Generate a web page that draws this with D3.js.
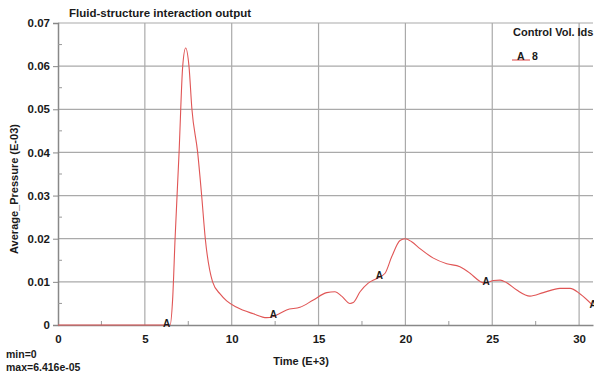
<!DOCTYPE html>
<html lang="en">
<head>
<meta charset="utf-8">
<title>Fluid-structure interaction output</title>
<script src="https://d3js.org/d3.v7.min.js"></script>
<style>
  body { margin: 0; background: #fff; }
  svg text { font-family: "Liberation Sans", Arial, sans-serif; font-weight: bold; fill: #1a1a1a; }
</style>
</head>
<body>
<script>
// curve samples: time (E+3) and average pressure (E-03)
const times = [0, 2, 4, 6, 6.45, 6.6, 6.74, 6.97, 7.18, 7.35, 7.54, 7.71, 8.04, 8.27, 8.48, 8.9,
  9.33, 9.71, 10.29, 11.25, 12.01, 12.36, 12.68, 13.16, 13.93, 14.7, 15.47, 15.95, 16.33, 16.81,
  17.0, 17.39, 17.86, 18.35, 18.83, 19.21, 19.69, 19.98, 20.36, 20.84, 21.61, 22.38, 23.14, 23.72,
  24.3, 24.58, 25.06, 25.45, 25.83, 26.41, 27.17, 27.94, 28.9, 29.48, 30.06, 30.8];
const pressure = [0, 0, 0, 0, 0, 0.006, 0.02, 0.04, 0.06, 0.0642, 0.06, 0.05, 0.04, 0.03, 0.02, 0.01,
  0.0072, 0.0056, 0.0041, 0.0026, 0.0017, 0.0019, 0.0025, 0.0035, 0.0041, 0.0058, 0.0075, 0.0077, 0.0067, 0.005,
  0.0052, 0.0077, 0.0097, 0.0108, 0.012, 0.0158, 0.0196, 0.02, 0.0193, 0.0177, 0.0155, 0.0142, 0.0135, 0.012,
  0.0101, 0.0097, 0.0103, 0.0104, 0.0098, 0.0081, 0.0067, 0.0075, 0.0085, 0.0085, 0.0072, 0.0045];
const markerTimes = [6.25, 12.4, 18.5, 24.65, 30.8];
const xTicks = [0, 5, 10, 15, 20, 25, 30];
const xMinor = [2.5, 7.5, 12.5, 17.5, 22.5, 27.5];
const yTicks = [0, 0.01, 0.02, 0.03, 0.04, 0.05, 0.06, 0.07];
const yMinor = [0.005, 0.015, 0.025, 0.035, 0.045, 0.055, 0.065];

const w = 594, h = 376;
const m = { left: 58, right: 1, top: 23, bottom: 51 };

const svg = d3.select("body").append("svg")
  .attr("width", w).attr("height", h);

const x = d3.scaleLinear().domain([0, 30.8]).range([m.left, w - m.right]);
const y = d3.scaleLinear().domain([0, 0.07]).range([h - m.bottom, m.top]);

// grid
svg.append("g").selectAll("line").data(xTicks.slice(1))
  .join("line")
  .attr("x1", d => x(d)).attr("x2", d => x(d))
  .attr("y1", y(0)).attr("y2", y(0.07))
  .attr("stroke", "#aaa").attr("stroke-width", 1.2);
svg.append("g").selectAll("line").data(yTicks.slice(1))
  .join("line")
  .attr("x1", x(0)).attr("x2", x(30.8))
  .attr("y1", d => y(d)).attr("y2", d => y(d))
  .attr("stroke", "#aaa").attr("stroke-width", 1.2);

// axes
const xAxis = svg.append("g")
  .attr("transform", `translate(0,${y(0)})`)
  .call(d3.axisBottom(x).tickValues(xTicks).tickSize(0).tickPadding(10).tickFormat(d3.format("d")));
xAxis.select(".domain").attr("stroke", "#888").attr("stroke-width", 1.5);
xAxis.selectAll("text").style("font-size", "11.5px");

const yAxis = svg.append("g")
  .attr("transform", `translate(${x(0)},0)`)
  .call(d3.axisLeft(y).tickValues(yTicks).tickSize(5).tickPadding(3)
    .tickFormat(d => d === 0 ? "0" : d3.format(".2f")(d)));
yAxis.select(".domain").attr("stroke", "#888").attr("stroke-width", 1.5);
yAxis.selectAll(".tick line").attr("stroke", "#888");
yAxis.selectAll("text").style("font-size", "11.5px");

// minor ticks
svg.append("g").selectAll("line").data(yMinor)
  .join("line")
  .attr("x1", x(0)).attr("x2", x(0) + 4)
  .attr("y1", d => y(d)).attr("y2", d => y(d))
  .attr("stroke", "#999");
svg.append("g").selectAll("line").data(xMinor)
  .join("line")
  .attr("x1", d => x(d)).attr("x2", d => x(d))
  .attr("y1", y(0)).attr("y2", y(0) - 4)
  .attr("stroke", "#999");

// curve
const pts = times.map((t, i) => [t, pressure[i]]);
svg.append("path")
  .datum(pts)
  .attr("fill", "none")
  .attr("stroke", "#e05555")
  .attr("stroke-width", 1.1)
  .attr("d", d3.line().x(d => x(d[0])).y(d => y(d[1])).curve(d3.curveMonotoneX));

// curve markers
const bis = d3.bisector(d => d).left;
function valueAt(t) {
  const i = Math.min(Math.max(bis(times, t), 1), times.length - 1);
  const t0 = times[i - 1], t1 = times[i];
  return pressure[i - 1] + (pressure[i] - pressure[i - 1]) * (t - t0) / (t1 - t0);
}
svg.append("g").selectAll("text").data(markerTimes)
  .join("text")
  .attr("x", d => x(d)).attr("y", d => y(valueAt(d)) + 2)
  .attr("text-anchor", "middle")
  .style("font-size", "10px")
  .text("A");

// titles
svg.append("text").attr("x", 69).attr("y", 17)
  .style("font-size", "11.5px").text("Fluid-structure interaction output");
svg.append("text")
  .attr("transform", "translate(18,189) rotate(-90)")
  .attr("text-anchor", "middle")
  .style("font-size", "11px").text("Average_Pressure (E-03)");
svg.append("text").attr("x", 301).attr("y", 365)
  .attr("text-anchor", "middle")
  .style("font-size", "11px").text("Time (E+3)");
svg.append("text").attr("x", 6).attr("y", 358)
  .style("font-size", "10.5px").text("min=0");
svg.append("text").attr("x", 6).attr("y", 371)
  .style("font-size", "10.5px").text("max=6.416e-05");

// legend
svg.append("text").attr("x", 513).attr("y", 36)
  .style("font-size", "11px").text("Control Vol. Ids");
svg.append("line")
  .attr("x1", 512).attr("x2", 530).attr("y1", 60).attr("y2", 60)
  .attr("stroke", "#e05555").attr("stroke-width", 1.1);
svg.append("text").attr("x", 517).attr("y", 60)
  .style("font-size", "10.5px").text("A");
svg.append("text").attr("x", 532).attr("y", 60)
  .style("font-size", "10.5px").text("8");
</script>
</body>
</html>
